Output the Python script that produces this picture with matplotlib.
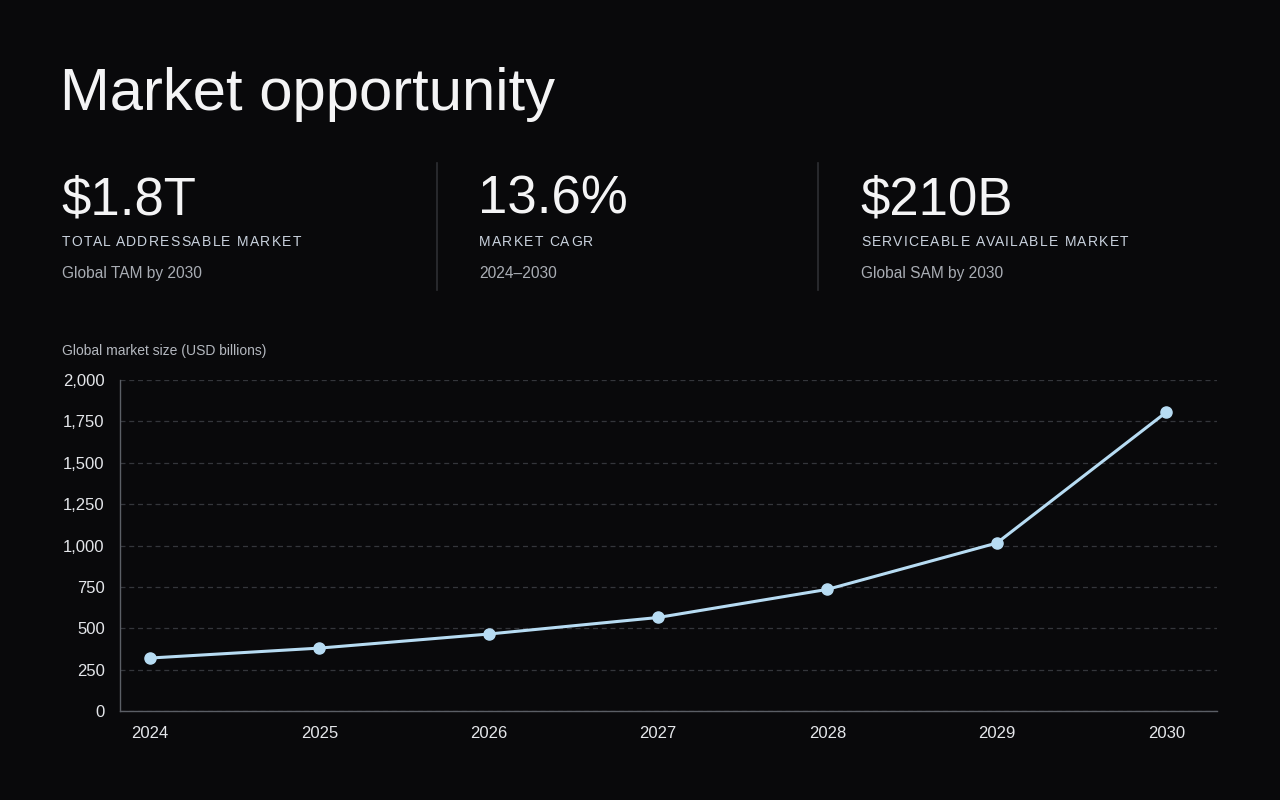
import matplotlib
matplotlib.use("Agg")
import matplotlib.pyplot as plt
from matplotlib.ticker import FuncFormatter, MultipleLocator
from matplotlib.font_manager import FontProperties

# data
years = ["2024", "2025", "2026", "2027", "2028", "2029", "2030"]
market_size = [320, 380, 465, 565, 735, 1015, 1805]

kpi_values = ["$1.8T", "13.6%", "$210B"]
kpi_labels = ["TOTAL ADDRESSABLE MARKET", "MARKET CAGR", "SERVICEABLE AVAILABLE MARKET"]
kpi_notes = ["Global TAM by 2030", "2024\u20132030", "Global SAM by 2030"]

BG = "#09090b"
LINE = "#b7dcf3"
FONT = "Liberation Sans"

W, H = 1280, 800
fig = plt.figure(figsize=(W / 100, H / 100), dpi=100, facecolor=BG)


def fx(px):
    return px / W


def fy(py):
    return 1 - py / H


def spaced_text(x, y, s, size, color, tracking):
    # letter-spaced text, drawn char by char (x, y in pixels, baseline)
    renderer = fig.canvas.get_renderer()
    prop = FontProperties(family=FONT, size=size)
    for i, ch in enumerate(s):
        if ch == " ":
            continue
        w = renderer.get_text_width_height_descent(s[:i], prop, ismath=False)[0] if i else 0
        fig.text(fx(x + w + i * tracking), fy(y), ch, fontproperties=prop,
                 color=color, va="baseline", ha="left")


# title
fig.text(fx(60), fy(110), "Market opportunity", fontsize=43, family=FONT,
         color="#f4f4f5", va="baseline")

# KPI blocks
kpi_x = [62, 479, 861]
for x, val, lab, note in zip(kpi_x, kpi_values, kpi_labels, kpi_notes):
    fig.text(fx(x - 1), fy(214), val, fontsize=38, family=FONT,
             color="#f4f4f5", va="baseline")
    spaced_text(x, 246.5, lab, 10, "#c9d2de", 1.25)
    fig.text(fx(x), fy(278), note, fontsize=11.2, family=FONT,
             color="#a9adb4", va="baseline")

for x in [437, 818]:
    fig.add_artist(plt.Line2D([fx(x), fx(x)], [fy(163), fy(290)],
                              transform=fig.transFigure, color="#2e2f33", lw=1.2))

fig.text(fx(62), fy(355), "Global market size (USD billions)", fontsize=10,
         family=FONT, color="#b4b8bf", va="baseline")

# chart
ax = fig.add_axes([fx(120), fy(711), fx(1217) - fx(120), fy(380) - fy(711)])
ax.set_facecolor(BG)
xs = list(range(len(years)))
ax.plot(xs, market_size, color=LINE, lw=2.2, marker="o", markersize=8,
        markerfacecolor=LINE, markeredgecolor=LINE, zorder=3, clip_on=False)

ax.set_xlim(-0.177, 6.30)
ax.set_ylim(0, 2000)
ax.yaxis.set_major_locator(MultipleLocator(250))
ax.yaxis.set_major_formatter(FuncFormatter(lambda v, p: f"{int(v):,}"))
ax.set_xticks(xs)
ax.set_xticklabels(years)

ax.grid(axis="y", color="#34363b", lw=0.9, linestyle=(0, (4, 3)))
ax.set_axisbelow(True)
for side in ["top", "right"]:
    ax.spines[side].set_visible(False)
for side in ["left", "bottom"]:
    ax.spines[side].set_color("#5b5f66")
    ax.spines[side].set_linewidth(1.0)

ax.tick_params(axis="both", length=0, colors="#e4e6ea", labelsize=12)
ax.tick_params(axis="y", pad=11)
ax.tick_params(axis="x", pad=11)
for lab in ax.get_xticklabels() + ax.get_yticklabels():
    lab.set_family(FONT)

fig.savefig("out.png", dpi=100, facecolor=BG)
